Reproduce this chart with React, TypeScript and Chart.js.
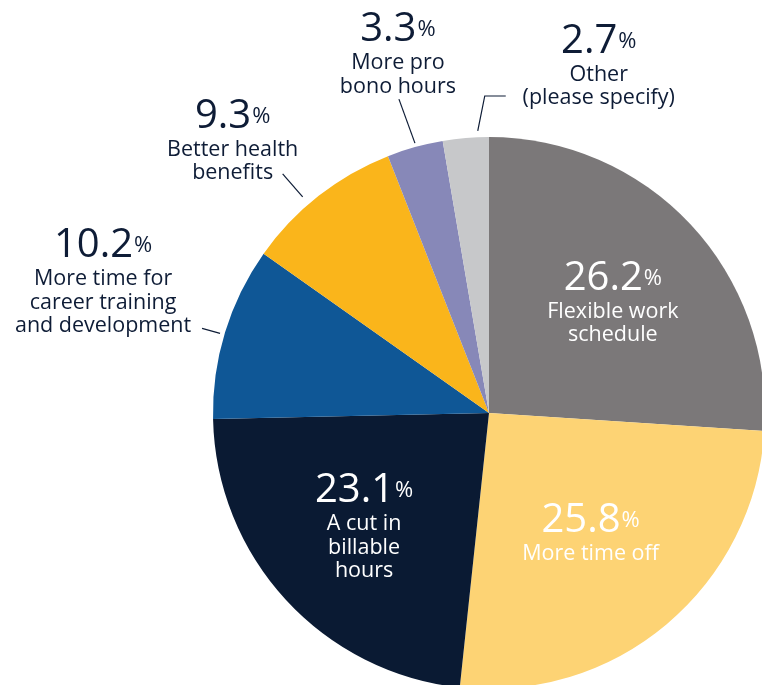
import React, { useEffect, useRef } from "react";
import { Chart, registerables } from "chart.js";

Chart.register(...registerables);

// ---- Data ----
const categories = [
  "Flexible work schedule",
  "More time off",
  "A cut in billable hours",
  "More time for career training and development",
  "Better health benefits",
  "More pro bono hours",
  "Other (please specify)",
];
const values = [26.2, 25.8, 23.1, 10.2, 9.3, 3.3, 2.7];
const labelLines = [
  ["Flexible work", "schedule"],
  ["More time off"],
  ["A cut in", "billable", "hours"],
  ["More time for", "career training", "and development"],
  ["Better health", "benefits"],
  ["More pro", "bono hours"],
  ["Other", "(please specify)"],
];

// ---- Styles ----
const colors = ["#7b7879", "#fdd374", "#0a1a33", "#0f5796", "#fab51b", "#8788b8", "#c7c8ca"];
const NAVY = "#0e1c36";
const FONT = "'Open Sans', Lato, sans-serif";

// label placement relative to the slice's mid-angle point at k * outerRadius
type Placement = {
  k: number;
  dx: number;
  dy: number;
  color: string;
  leader?: [number, number][];
};
const placements: Placement[] = [
  { k: 0.6, dx: 3, dy: -10, color: "#ffffff" },
  { k: 0.6, dx: -5, dy: -8, color: "#ffffff" },
  { k: 0.6, dx: -3, dy: -23, color: "#ffffff" },
  { k: 1, dx: -122, dy: -75, color: NAVY, leader: [[-5, 1], [-23, -4]] },
  { k: 1, dx: -86, dy: -68, color: NAVY, leader: [[-16, 1], [-36, -22]] },
  { k: 1, dx: -17, dy: -106, color: NAVY, leader: [[0, -4], [-16, -48]] },
  { k: 1, dx: 133, dy: -85, color: NAVY, leader: [[12, -7], [19, -42], [40, -42]] },
];

const sliceLabels = {
  id: "sliceLabels",
  afterDatasetsDraw(chart: any) {
    const ctx: CanvasRenderingContext2D = chart.ctx;
    const meta = chart.getDatasetMeta(0);
    meta.data.forEach((arc: any, i: number) => {
      const p = arc.getProps(["x", "y", "startAngle", "endAngle", "outerRadius"], true);
      const mid = (p.startAngle + p.endAngle) / 2;
      const pl = placements[i];
      const ex = p.x + Math.cos(mid) * p.outerRadius * pl.k;
      const ey = p.y + Math.sin(mid) * p.outerRadius * pl.k;
      ctx.save();
      if (pl.leader) {
        ctx.strokeStyle = NAVY;
        ctx.lineWidth = 1.2;
        ctx.beginPath();
        pl.leader.forEach(([lx, ly], j) => {
          if (j === 0) ctx.moveTo(ex + lx, ey + ly);
          else ctx.lineTo(ex + lx, ey + ly);
        });
        ctx.stroke();
      }
      const ax = ex + pl.dx;
      const ay = ey + pl.dy;
      ctx.fillStyle = pl.color;
      ctx.textBaseline = "alphabetic";
      ctx.textAlign = "left";
      const numStr = values[i].toFixed(1);
      ctx.font = `400 40px ${FONT}`;
      const nw = ctx.measureText(numStr).width;
      ctx.font = `400 22px ${FONT}`;
      const pw = ctx.measureText("%").width;
      const gap = 1;
      const x0 = ax - (nw + gap + pw) / 2;
      ctx.font = `400 40px ${FONT}`;
      ctx.fillText(numStr, x0, ay);
      ctx.font = `400 22px ${FONT}`;
      ctx.fillText("%", x0 + nw + gap, ay - 5);
      ctx.textAlign = "center";
      ctx.font = `400 21.5px ${FONT}`;
      labelLines[i].forEach((line, j) => {
        ctx.fillText(line, ax, ay + 28 + j * 23.5);
      });
      ctx.restore();
    });
  },
};

export default function App() {
  const ref = useRef<HTMLCanvasElement | null>(null);
  useEffect(() => {
    document.body.style.margin = "0";
    if (!ref.current) return;
    const chart = new Chart(ref.current, {
      type: "pie",
      data: {
        labels: categories,
        datasets: [
          {
            data: values,
            backgroundColor: colors,
            borderWidth: 0,
          },
        ],
      },
      options: {
        responsive: false,
        animation: false,
        devicePixelRatio: 1,
        layout: { padding: { left: 213, top: 137, right: 35, bottom: 71 } },
        plugins: {
          legend: { display: false },
          tooltip: { enabled: false },
        },
      },
      plugins: [sliceLabels],
    });
    return () => chart.destroy();
  }, []);
  return (
    <div
      style={{
        position: "fixed",
        left: 0,
        top: 0,
        width: 762,
        height: 685,
        overflow: "hidden",
        background: "#ffffff",
      }}
    >
      <canvas ref={ref} width={800} height={760} style={{ display: "block", width: 800, height: 760 }} />
    </div>
  );
}
